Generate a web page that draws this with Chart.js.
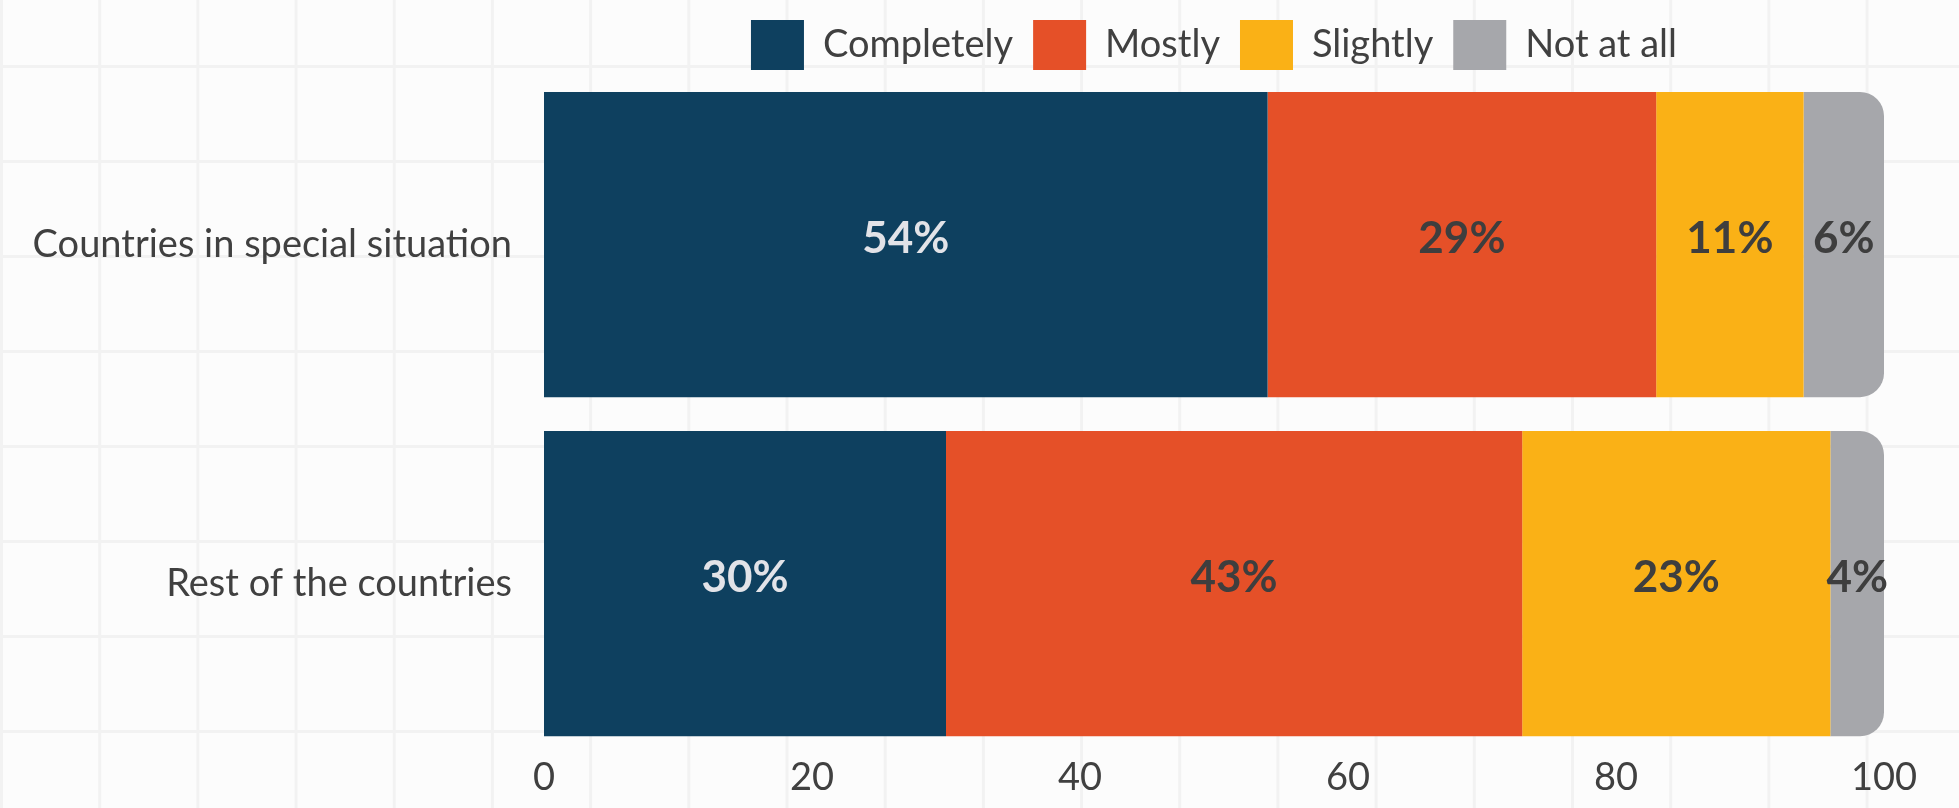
<!DOCTYPE html>
<html>
<head>
<meta charset="utf-8">
<script src="https://cdn.jsdelivr.net/npm/chart.js@4"></script>
<style>
  html, body { margin: 0; padding: 0; }
  body {
    width: 1959px; height: 808px; overflow: hidden;
    background-color: #fcfcfc;
    background-image:
      linear-gradient(to right, #f2f2f2 0, #f2f2f2 3px, transparent 3px),
      linear-gradient(to bottom, #f2f2f2 0, #f2f2f2 3px, transparent 3px);
    background-size: 98.2px 100%, 100% 95px;
    background-position: 0 0, 0 65px;
  }
  #wrap { position: relative; width: 1959px; height: 808px; }
</style>
</head>
<body>
<div id="wrap"><canvas id="chart"></canvas></div>
<script>
/* Données */
var categories = ['Countries in special situation', 'Rest of the countries'];
var seriesNames = ['Completely', 'Mostly', 'Slightly', 'Not at all'];
var completely = [54, 30];
var mostly = [29, 43];
var slightly = [11, 23];
var notAtAll = [6, 4];
var xTicks = [0, 20, 40, 60, 80, 100];

var colors = ['#0e405f', '#e55028', '#fab116', '#a6a7ab'];
var labelColors = ['#e2e3e8', '#3e3e3e', '#3e3e3e', '#3e3e3e'];
var textColor = '#404040';

/* Étiquettes de valeur au centre de chaque segment */
var valueLabels = {
    id: 'valueLabels',
    afterDatasetsDraw: function (chart) {
        var ctx = chart.ctx;
        ctx.save();
        ctx.font = 'bold 44px Lato';
        ctx.textAlign = 'center';
        ctx.textBaseline = 'middle';
        chart.data.datasets.forEach(function (ds, i) {
            chart.getDatasetMeta(i).data.forEach(function (bar, j) {
                var p = bar.getCenterPoint();
                ctx.fillStyle = labelColors[i];
                ctx.fillText(ds.data[j] + '%', p.x, p.y - 6);
            });
        });
        ctx.restore();
    }
};

var values = [completely, mostly, slightly, notAtAll];
var datasets = values.map(function (d, i) {
    var last = i === values.length - 1;
    return {
        label: seriesNames[i],
        data: d,
        backgroundColor: colors[i],
        borderWidth: 0,
        borderSkipped: false,
        borderRadius: last ? { topLeft: 0, bottomLeft: 0, topRight: 24, bottomRight: 24 } : 0,
        categoryPercentage: 0.9,
        barPercentage: 1.0
    };
});

Chart.defaults.font.family = 'Lato';
Chart.defaults.color = textColor;

new Chart(document.getElementById('chart').getContext('2d'), {
    type: 'bar',
    data: { labels: categories, datasets: datasets },
    options: {
        indexAxis: 'y',
        responsive: true,
        maintainAspectRatio: false,
        animation: false,
        layout: { padding: { left: 0, right: 75, top: 0, bottom: 0 } },
        plugins: {
            legend: {
                position: 'top',
                fullSize: false,
                maxHeight: 75,
                labels: {
                    boxWidth: 53,
                    boxHeight: 50,
                    padding: 20,
                    color: textColor,
                    font: { size: 38 }
                }
            },
            tooltip: { enabled: false }
        },
        scales: {
            x: {
                stacked: true,
                min: 0,
                max: 100,
                afterBuildTicks: function (s) {
                    s.ticks = xTicks.map(function (v) { return { value: v }; });
                },
                afterFit: function (s) { s.height = 53; },
                grid: { display: false, drawTicks: false },
                border: { display: false },
                ticks: { padding: 2, color: textColor, font: { size: 38 } }
            },
            y: {
                stacked: true,
                afterFit: function (s) { s.width = 544; },
                grid: { display: false, drawTicks: false },
                border: { display: false },
                ticks: { padding: 32, color: textColor, font: { size: 38 } }
            }
        }
    },
    plugins: [valueLabels]
});
</script>
</body>
</html>
